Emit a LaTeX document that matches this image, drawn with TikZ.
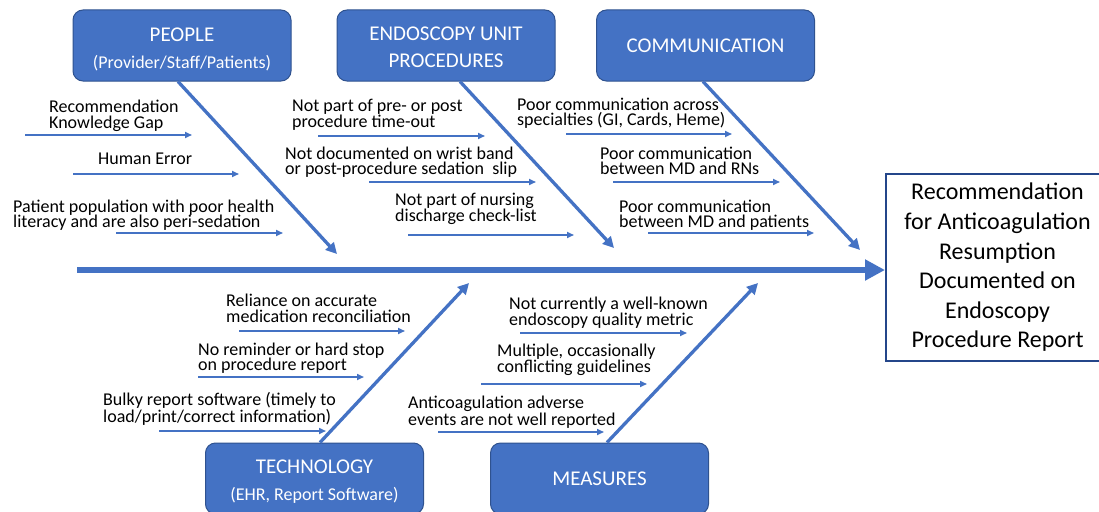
\documentclass[tikz,border=0pt]{standalone}
\usepackage{fontspec}
\setmainfont{Carlito}
\usetikzlibrary{arrows.meta}
\definecolor{fbblue}{HTML}{4472C4}
\definecolor{fbedge}{HTML}{2F528F}
\definecolor{navyedge}{HTML}{24468A}
\begin{document}
\begin{tikzpicture}[x=1pt,y=-1pt,
  catbox/.style={draw=fbedge, line width=1pt, fill=fbblue, rounded corners=10pt,
    minimum width=218pt, minimum height=71pt, inner sep=0pt},
  cattext/.style={text=white, align=center, inner sep=0pt,
    font=\fontsize{21}{27}\selectfont},
  cause/.style={align=left, anchor=west, inner sep=0pt, text=black,
    font=\fontsize{18}{15.5}\selectfont},
  twig/.style={draw=fbblue, line width=1.6pt, -{Triangle[length=7pt,width=6pt]}},
  bone/.style={draw=fbblue, line width=3.3pt, -{Triangle[length=11pt,width=11pt]}},
  spinearrow/.style={draw=fbblue, line width=6.5pt, -{Triangle[length=20pt,width=20pt]}}
]
\useasboundingbox (0,0) rectangle (1099,511);
\fill[white] (0,0) rectangle (1099,511);
\clip (0,0) rectangle (1099,511);

% category boxes
\node[catbox] (people) at (182,45.5) {};
\node[catbox] (endo) at (446,45.5) {};
\node[catbox] (comm) at (705.5,45.5) {};
\node[catbox] (tech) at (314.5,478.5) {};
\node[catbox] (meas) at (599.5,478.5) {};
\node[cattext] (peopletxt) at ([yshift=-3.5pt]people.center) {PEOPLE\\{\fontsize{18}{27}\selectfont (Provider/Staff/Patients)}};
\node[cattext] (endotxt) at ([yshift=-2pt]endo.center) {ENDOSCOPY UNIT\\PROCEDURES};
\node[cattext] (commtxt) at ([yshift=-0.5pt]comm.center) {COMMUNICATION};
\node[cattext] (techtxt) at ([yshift=-3.5pt]tech.center) {TECHNOLOGY\\{\fontsize{18}{27}\selectfont (EHR, Report Software)}};
\node[cattext] (meastxt) at ([yshift=-0.5pt]meas.center) {MEASURES};

% outcome
\node[draw=navyedge, line width=2pt, fill=white, minimum width=223pt, minimum height=187pt,
  inner sep=0pt, align=center, font=\fontsize{24}{29.6}\selectfont] (outcome) at (997.5,267.5)
  {Recommendation\\for Anticoagulation\\Resumption\\Documented on\\Endoscopy\\Procedure Report};

% spine
\coordinate (spstart) at (77,270);
\draw[spinearrow] (spstart) -- (spstart -| outcome.west);

% main bones
\coordinate (tipP) at (337,254);
\coordinate (tipE) at (614,248);
\coordinate (tipC) at (860,250);
\coordinate (tipT) at (469,283);
\coordinate (tipM) at (758,283);
\draw[bone] ([xshift=-4pt]people.south) -- (tipP);
\draw[bone] ([xshift=14pt]endo.south) -- (tipE);
\draw[bone] ([xshift=-2.5pt]comm.south) -- (tipC);
\draw[bone] ([xshift=5.5pt]tech.north) -- (tipT);
\draw[bone] ([xshift=7.5pt]meas.north) -- (tipM);

% cause labels
\node[cause] (l1) at (49,116) {Recommendation\\Knowledge Gap};
\node[cause] (l2) at (98,159) {Human Error};
\node[cause] (l3) at (13,215) {Patient population with poor health\\literacy and are also peri-sedation};
\node[cause] (l4) at (292,115) {Not part of pre- or post\\procedure time-out};
\node[cause] (l5) at (285,162) {Not documented on wrist band\\or post-procedure sedation\ \ slip};
\node[cause] (l6) at (395,209) {Not part of nursing\\discharge check-list};
\node[cause] (l7) at (517,113) {Poor communication across\\specialties (GI, Cards, Heme)};
\node[cause] (l8) at (600,161) {Poor communication\\between MD and RNs};
\node[cause] (l9) at (619,215) {Poor communication\\between MD and patients};
\node[cause] (l10) at (226,308.5) {Reliance on accurate\\medication reconciliation};
\node[cause] (l11) at (198,358) {No reminder or hard stop\\on procedure report};
\node[cause] (l12) at (103,409) {Bulky report software (timely to\\load/print/correct information)};
\node[cause] (l13) at (509,312.5) {Not currently a well-known\\endoscopy quality metric};
\node[cause] (l14) at (497,360) {Multiple, occasionally\\conflicting guidelines};
\node[cause] (l15) at (408,412) {Anticoagulation adverse\\events are not well reported};

% cause arrows
\coordinate (a1s) at (25,135);  \coordinate (a1e) at (192,135);
\coordinate (a2s) at (73,174);  \coordinate (a2e) at (239,174);
\coordinate (a3s) at (116,233); \coordinate (a3e) at (283,233);
\coordinate (b1s) at (318,136); \coordinate (b1e) at (485,136);
\coordinate (b2s) at (369,182); \coordinate (b2e) at (536,182);
\coordinate (b3s) at (408,235); \coordinate (b3e) at (574,235);
\coordinate (c1s) at (566,134); \coordinate (c1e) at (732,134);
\coordinate (c2s) at (613,182); \coordinate (c2e) at (780,182);
\coordinate (c3s) at (648,233); \coordinate (c3e) at (814,233);
\coordinate (d1s) at (239,331); \coordinate (d1e) at (405,331);
\coordinate (d2s) at (198,377); \coordinate (d2e) at (364,377);
\coordinate (d3s) at (159,431); \coordinate (d3e) at (326,431);
\coordinate (e1s) at (520,333); \coordinate (e1e) at (687,333);
\coordinate (e2s) at (481,384); \coordinate (e2e) at (647,384);
\coordinate (e3s) at (438,432); \coordinate (e3e) at (604,432);
\foreach \n in {a1,a2,a3,b1,b2,b3,c1,c2,c3,d1,d2,d3,e1,e2,e3}
  \draw[twig] (\n s) -- (\n e);
\end{tikzpicture}
\end{document}
